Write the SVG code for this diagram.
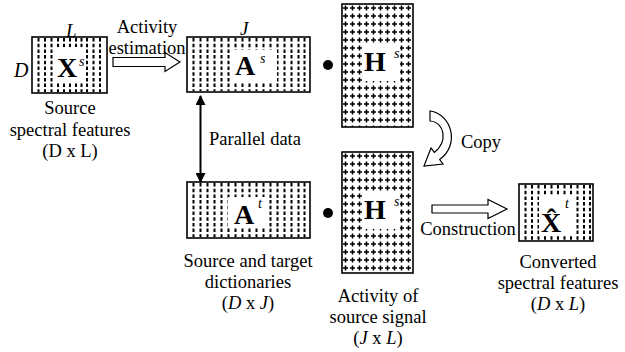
<svg xmlns="http://www.w3.org/2000/svg" width="625" height="352" viewBox="0 0 625 352">
  <style>
    text { font-family: "Liberation Serif", "Times New Roman", serif; fill: #000; }
    .cap { font-size: 18.5px; text-anchor: middle; }
    .lbl { font-size: 18.5px; }
    .it { font-style: italic; }
    .mat { font-size: 28px; font-weight: bold; }
    .sup { font-size: 14px; font-style: italic; }
    .box { fill: none; stroke: #000; stroke-width: 1.6; }
    .dash { fill: none; stroke: #000; stroke-width: 2; stroke-dasharray: 3.5 2.2; }
    .hollow { fill: #fff; stroke: #000; stroke-width: 1.2; stroke-linejoin: miter; }
    .blank { fill: #fff; }
  </style>
  <defs>
    <pattern id="grid" patternUnits="userSpaceOnUse" x="342" y="4" width="7" height="8">
      <path d="M3.5 1.5 V6.5 M1 4 H6" stroke="#000" stroke-width="1.5" fill="none"/>
    </pattern>
    <pattern id="gridB" patternUnits="userSpaceOnUse" x="342" y="152" width="7" height="8">
      <path d="M3.5 1.5 V6.5 M1 4 H6" stroke="#000" stroke-width="1.5" fill="none"/>
    </pattern>
    <marker id="head" viewBox="0 0 10 10" refX="9" refY="5" markerWidth="5" markerHeight="5" orient="auto-start-reverse" markerUnits="strokeWidth">
      <path d="M0 0 L10 5 L0 10 Z" fill="#000"/>
    </marker>
  </defs>

  <!-- source spectral features X^s -->
  <g id="node-xs">
    <path class="dash" d="M38.5 38 V92 M45 38 V92 M51.5 38 V92 M58 38 V92 M64 38 V92 M70 38 V92 M76 38 V92 M81.5 38 V92 M87 38 V92 M93.5 38 V92 M100 38 V92"/>
    <rect class="blank" x="54" y="47" width="30" height="36"/>
    <rect class="box" x="32" y="37" width="75" height="56"/>
    <text class="mat" x="57" y="77">X</text>
    <text class="sup" x="79" y="66">s</text>
    <text class="lbl it" x="66" y="37" style="font-size:19px">L</text>
    <text class="lbl it" x="14" y="77" style="font-size:20px">D</text>
    <text class="cap" x="70" y="114">Source</text>
    <text class="cap" x="70" y="136">spectral features</text>
    <text class="cap" x="70" y="157">(D x L)</text>
  </g>

  <!-- source dictionary A^s -->
  <g id="node-as">
    <path class="dash" d="M193.5 38 V91 M200.5 38 V91 M207.5 38 V91 M214.5 38 V91 M221.5 38 V91 M228.5 38 V91 M235.5 38 V91 M242.5 38 V91 M249.5 38 V91 M256.5 38 V91 M263.5 38 V91 M270.5 38 V91 M277.5 38 V91 M284.5 38 V91 M291.5 38 V91 M298.5 38 V91 M304.5 38 V91"/>
    <rect class="blank" x="230" y="50" width="47" height="33"/>
    <rect class="box" x="187" y="37" width="123" height="55"/>
    <text class="mat" x="235" y="75">A</text>
    <text class="sup" x="260" y="63">s</text>
    <text class="lbl it" x="240" y="35" style="font-size:19px">J</text>
  </g>

  <!-- dot product, top row -->
  <g id="node-dot-top">
    <circle cx="328" cy="65" r="5" fill="#000"/>
  </g>

  <!-- activity matrix H^s, top -->
  <g id="node-hs-top">
    <rect x="342" y="4" width="71" height="123" fill="url(#grid)"/>
    <rect class="blank" x="362" y="43" width="38" height="38"/>
    <rect class="box" x="342" y="4" width="71" height="123"/>
    <text class="mat" x="364" y="71">H</text>
    <text class="sup" x="394" y="58">s</text>
  </g>

  <!-- target dictionary A^t -->
  <g id="node-at">
    <path class="dash" d="M193.5 183 V237 M200.5 183 V237 M207.5 183 V237 M214.5 183 V237 M221.5 183 V237 M228.5 183 V237 M235.5 183 V237 M242.5 183 V237 M249.5 183 V237 M256.5 183 V237 M263.5 183 V237 M270.5 183 V237 M277.5 183 V237 M284.5 183 V237 M291.5 183 V237 M298.5 183 V237 M304.5 183 V237"/>
    <rect class="blank" x="228" y="197" width="38" height="31"/>
    <rect class="box" x="187" y="182" width="123" height="56"/>
    <text class="mat" x="234" y="224">A</text>
    <text class="sup" x="258" y="208">t</text>
    <text class="cap" x="248" y="267">Source and target</text>
    <text class="cap" x="248" y="288">dictionaries</text>
    <text class="cap" x="248" y="309">(<tspan class="it">D</tspan> x <tspan class="it">J</tspan>)</text>
  </g>

  <!-- dot product, bottom row -->
  <g id="node-dot-bottom">
    <circle cx="328" cy="213" r="5" fill="#000"/>
  </g>

  <!-- activity matrix H^s, bottom -->
  <g id="node-hs-bottom">
    <rect x="342" y="152" width="71" height="121" fill="url(#gridB)"/>
    <rect class="blank" x="362" y="191" width="38" height="38"/>
    <rect class="box" x="342" y="152" width="71" height="121"/>
    <text class="mat" x="364" y="219">H</text>
    <text class="sup" x="394" y="206">s</text>
    <text class="cap" x="378" y="302">Activity of</text>
    <text class="cap" x="378" y="323">source signal</text>
    <text class="cap" x="378" y="344">(<tspan class="it">J</tspan> x <tspan class="it">L</tspan>)</text>
  </g>

  <!-- converted spectral features X^t (hat = combining circumflex) -->
  <g id="node-xt">
    <path class="dash" d="M525.5 185 V240 M532 185 V240 M538.5 185 V240 M545 185 V240 M551.5 185 V240 M558 185 V240 M564.5 185 V240 M571 185 V240 M577.5 185 V240 M584 185 V240 M590 185 V240"/>
    <rect class="blank" x="539" y="196" width="33" height="38"/>
    <rect class="box" x="519" y="184" width="74" height="57"/>
    <text class="mat" x="541" y="232">X&#x0302;</text>
    <text class="sup" x="565" y="208">t</text>
    <text class="cap" x="558" y="268">Converted</text>
    <text class="cap" x="558" y="289">spectral features</text>
    <text class="cap" x="558" y="310">(<tspan class="it">D</tspan> x <tspan class="it">L</tspan>)</text>
  </g>

  <!-- connectors -->
  <g id="connectors">
    <!-- activity estimation -->
    <path class="hollow" d="M113 57.5 H165 V52.5 L180 62 L165 71.5 V66.5 H113 Z"/>
    <text class="lbl" x="147" y="33" text-anchor="middle">Activity</text>
    <text class="lbl" x="147" y="54" text-anchor="middle">estimation</text>
    <!-- parallel data -->
    <line x1="200.5" y1="96" x2="200.5" y2="182" stroke="#000" stroke-width="2" marker-start="url(#head)" marker-end="url(#head)"/>
    <text class="lbl" x="209" y="145">Parallel data</text>
    <!-- copy -->
    <path class="hollow" d="M430 111 C452 114 460 145 439.7 159.6 L443 164 L424 166 L431 148 L434.3 152.4 C448 142 445 122 430 121 Z"/>
    <text class="lbl" x="461" y="148">Copy</text>
    <!-- construction -->
    <path class="hollow" d="M432 205 H488 V199.5 L507 209 L488 218.5 V213 H432 Z"/>
    <text class="lbl" x="468" y="235" text-anchor="middle">Construction</text>
  </g>
</svg>
